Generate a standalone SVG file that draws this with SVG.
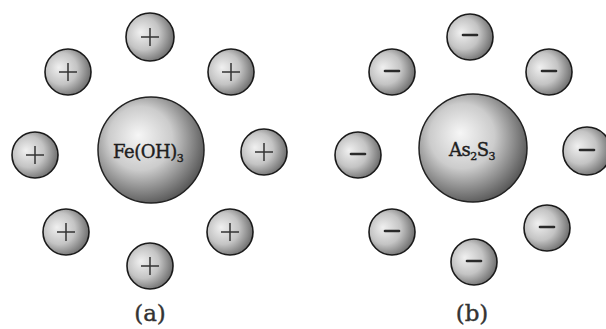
<svg xmlns="http://www.w3.org/2000/svg" width="606" height="329" viewBox="0 0 606 329">
<defs>
<radialGradient id="g" cx="0.42" cy="0.42" r="0.6" fx="0.38" fy="0.36">
<stop offset="0" stop-color="#f6f6f6"/>
<stop offset="0.5" stop-color="#cccccc"/>
<stop offset="1" stop-color="#5a5a5a"/>
</radialGradient>
<radialGradient id="gs" cx="0.4" cy="0.45" r="0.62" fx="0.3" fy="0.4">
<stop offset="0" stop-color="#f0f0f0"/>
<stop offset="0.55" stop-color="#c4c4c4"/>
<stop offset="1" stop-color="#6a6a6a"/>
</radialGradient>
</defs>
<style>
.big{fill:url(#g);stroke:#222;stroke-width:1.5}
.ion{fill:url(#gs);stroke:#1a1a1a;stroke-width:1.6}
.pl{stroke:#333;stroke-width:1.5;fill:none}
.mn{stroke:#2a2a2a;stroke-width:2.6;stroke-linecap:round;fill:none}
.t{font-family:"DejaVu Serif","Liberation Serif",serif;fill:#1e1e1e;stroke:#1e1e1e;stroke-width:0.4}
.lbl{font-family:"DejaVu Serif","Liberation Serif",serif;font-size:23px;fill:#333;stroke:#333;stroke-width:0.4;text-anchor:middle}
</style>
<rect width="606" height="329" fill="#fff"/>
<g id="fe">
<circle class="big" cx="151" cy="150" r="53"/>
<text class="t" x="113" y="158" font-size="18" letter-spacing="-0.5">Fe(OH)<tspan font-size="11" dy="4">3</tspan></text>
</g>
<g id="p1"><circle class="ion" cx="150" cy="37" r="24"/><path class="pl" d="M141 37h18M150 28v18"/></g>
<g id="p2"><circle class="ion" cx="68" cy="72" r="23"/><path class="pl" d="M59 72h18M68 63v18"/></g>
<g id="p3"><circle class="ion" cx="231" cy="72" r="23"/><path class="pl" d="M222 72h18M231 63v18"/></g>
<g id="p4"><circle class="ion" cx="35" cy="155" r="23"/><path class="pl" d="M26 155h18M35 146v18"/></g>
<g id="p5"><circle class="ion" cx="264" cy="152" r="23"/><path class="pl" d="M255 152h18M264 143v18"/></g>
<g id="p6"><circle class="ion" cx="66" cy="232" r="23"/><path class="pl" d="M57 232h18M66 223v18"/></g>
<g id="p7"><circle class="ion" cx="230" cy="232" r="23"/><path class="pl" d="M221 232h18M230 223v18"/></g>
<g id="p8"><circle class="ion" cx="150" cy="266" r="23"/><path class="pl" d="M141 266h18M150 257v18"/></g>
<g id="as">
<circle class="big" cx="473" cy="148" r="54"/>
<text class="t" x="449" y="156" font-size="18" letter-spacing="-0.5">As<tspan font-size="11" dy="4">2</tspan><tspan dy="-4">S</tspan><tspan font-size="11" dy="4">3</tspan></text>
</g>
<g id="m1"><circle class="ion" cx="470" cy="37" r="23"/><path class="mn" d="M463 35h14"/></g>
<g id="m2"><circle class="ion" cx="392" cy="72" r="23"/><path class="mn" d="M385 71h14"/></g>
<g id="m3"><circle class="ion" cx="549" cy="72" r="23"/><path class="mn" d="M542 71h14"/></g>
<g id="m4"><circle class="ion" cx="358" cy="155" r="23"/><path class="mn" d="M351 154h14"/></g>
<g id="m5"><circle class="ion" cx="587" cy="151" r="24"/><path class="mn" d="M580 150h14"/></g>
<g id="m6"><circle class="ion" cx="392" cy="232" r="23"/><path class="mn" d="M385 231h14"/></g>
<g id="m7"><circle class="ion" cx="547" cy="228" r="23"/><path class="mn" d="M540 227h14"/></g>
<g id="m8"><circle class="ion" cx="474" cy="262" r="23"/><path class="mn" d="M467 261h14"/></g>
<text class="lbl" x="150" y="321">(a)</text>
<text class="lbl" x="472" y="321">(b)</text>
</svg>
